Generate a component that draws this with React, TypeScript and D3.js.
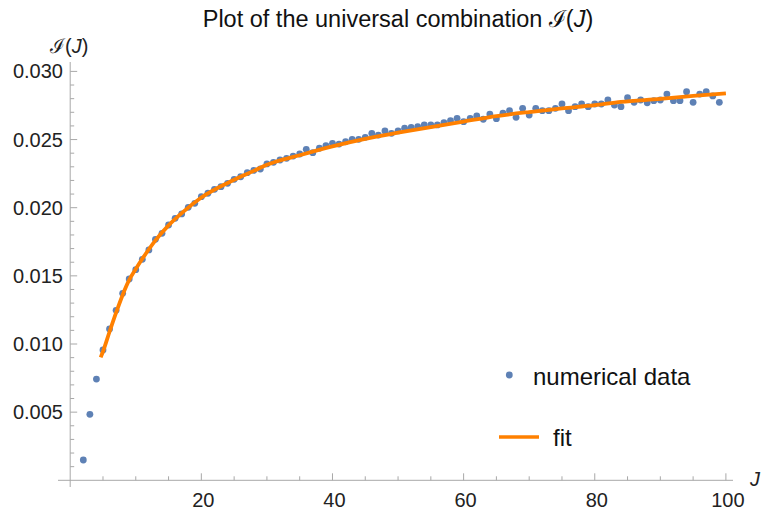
import React from "react";
import * as d3 from "d3";

// numerical data
const jValues = [
  2, 3, 4, 5, 6, 7, 8, 9, 10, 11, 12, 13, 14, 15, 16, 17, 18, 19, 20,
  21, 22, 23, 24, 25, 26, 27, 28, 29, 30, 31, 32, 33, 34, 35, 36, 37, 38, 39, 40,
  41, 42, 43, 44, 45, 46, 47, 48, 49, 50, 51, 52, 53, 54, 55, 56, 57, 58, 59, 60,
  61, 62, 63, 64, 65, 66, 67, 68, 69, 70, 71, 72, 73, 74, 75, 76, 77, 78, 79, 80,
  81, 82, 83, 84, 85, 86, 87, 88, 89, 90, 91, 92, 93, 94, 95, 96, 97, 98, 99,
];
const iValues = [
  0.00149, 0.00484, 0.00743, 0.00956, 0.0111, 0.01247, 0.01372, 0.01477, 0.01545,
  0.01621, 0.0169, 0.01768, 0.01812, 0.01873, 0.01922, 0.01954, 0.02003, 0.02032, 0.02081,
  0.02106, 0.02135, 0.02154, 0.02179, 0.02208, 0.02227, 0.02257, 0.02274, 0.02284, 0.02321,
  0.02333, 0.0235, 0.02362, 0.02379, 0.02394, 0.02428, 0.02404, 0.02436, 0.02455, 0.02472,
  0.02467, 0.02484, 0.02502, 0.02502, 0.02516, 0.02546, 0.02533, 0.02563, 0.02546, 0.02563,
  0.02583, 0.0259, 0.02594, 0.02607, 0.02607, 0.02607, 0.02624, 0.02638, 0.02656, 0.02631,
  0.02656, 0.02673, 0.02649, 0.02687, 0.02653, 0.02693, 0.02712, 0.02663, 0.02729, 0.0268,
  0.02729, 0.02712, 0.02712, 0.02729, 0.02761, 0.02712, 0.02741, 0.02761, 0.02741, 0.02761,
  0.02761, 0.0279, 0.02753, 0.02741, 0.02807, 0.02773, 0.0279, 0.0277, 0.02785, 0.0279,
  0.02834, 0.02785, 0.02785, 0.02851, 0.02773, 0.02834, 0.02851, 0.0282, 0.02773,
];

// fitted curve
const fitJ = [4.65, 5, 6, 7, 8, 9, 10, 11, 12, 13, 15, 17, 20, 25, 28, 30, 35, 40, 45, 50, 55, 60, 65, 70, 75, 80, 84, 90, 95, 100];
const fitI = [
  0.00902, 0.00945, 0.0109, 0.0123, 0.0136, 0.0147, 0.0155, 0.01625, 0.01695, 0.0176,
  0.0187, 0.0196, 0.02075, 0.02205, 0.0227, 0.02315, 0.02385, 0.0245, 0.02505, 0.0255,
  0.02592, 0.02632, 0.02672, 0.02702, 0.02728, 0.02752, 0.02776, 0.02798, 0.0282, 0.02839,
];

const xMajor = [20, 40, 60, 80, 100];
const xTickLabels = ["20", "40", "60", "80", "100"];
const yMajor = [0.005, 0.01, 0.015, 0.02, 0.025, 0.03];
const yTickLabels = ["0.005", "0.010", "0.015", "0.020", "0.025", "0.030"];
const seriesNames = ["numerical data", "fit"];

const W = 761;
const H = 513;
const FONT = "'Liberation Sans', Arial, sans-serif";
const AXIS = "#a8a8a8";
const DOT = "#5e81b5";
const FIT = "#ff8000";

export default function App() {
  const x = d3.scaleLinear().domain([0, 100]).range([70.2, 725.9]);
  const y = d3.scaleLinear().domain([0, 0.03]).range([480.3, 71.4]);

  const xMinor = d3.range(5, 101, 5).filter((d) => !xMajor.includes(d));
  const yMinor = d3.range(1, 31).map((d) => d / 1000).filter((d) => Math.round(d * 1000) % 5 !== 0);

  const line = d3
    .line<number>()
    .x((_, i) => x(fitJ[i]))
    .y((d) => y(d))
    .curve(d3.curveMonotoneX);

  const x0 = x(0);
  const y0 = y(0);

  return (
    <svg width={W} height={H} style={{ position: "absolute", left: 0, top: 0, background: "#fff" }} fontFamily={FONT}>
      <text x={398} y={27} textAnchor="middle" fontSize={23.5} fill="#111">
        Plot of the universal combination ℐ(<tspan fontStyle="italic">J</tspan>)
      </text>

      {/* axes */}
      <line x1={58} x2={733} y1={y0} y2={y0} stroke={AXIS} />
      <line x1={x0} x2={x0} y1={487} y2={62} stroke={AXIS} />
      {xMajor.map((d) => (
        <line key={"xM" + d} x1={x(d)} x2={x(d)} y1={y0} y2={y0 - 7} stroke={AXIS} />
      ))}
      {xMinor.map((d) => (
        <line key={"xm" + d} x1={x(d)} x2={x(d)} y1={y0} y2={y0 - 4} stroke={AXIS} />
      ))}
      {yMajor.map((d) => (
        <line key={"yM" + d} x1={x0} x2={x0 + 7} y1={y(d)} y2={y(d)} stroke={AXIS} />
      ))}
      {yMinor.map((d) => (
        <line key={"ym" + d} x1={x0} x2={x0 + 4} y1={y(d)} y2={y(d)} stroke={AXIS} />
      ))}
      {xMajor.map((d, i) => (
        <text key={"xl" + d} x={x(d) + 2} y={507} textAnchor="middle" fontSize={20} fill="#222">
          {xTickLabels[i]}
        </text>
      ))}
      {yMajor.map((d, i) => (
        <text key={"yl" + d} x={63} y={y(d) + 7} textAnchor="end" fontSize={20} fill="#222">
          {yTickLabels[i]}
        </text>
      ))}
      <text x={50} y={53} fontSize={20} fill="#222">
        ℐ(<tspan fontStyle="italic">J</tspan>)
      </text>
      <text x={750} y={486} fontSize={20} fill="#222" fontStyle="italic">
        J
      </text>

      {/* data */}
      {iValues.map((v, i) => (
        <circle key={"p" + i} cx={x(jValues[i])} cy={y(v)} r={3.4} fill={DOT} />
      ))}
      <path d={line(fitI) ?? ""} fill="none" stroke={FIT} strokeWidth={3.8} />

      {/* legend */}
      <circle cx={509.3} cy={375} r={3.4} fill={DOT} />
      <text x={533} y={385} fontSize={24} fill="#111">
        {seriesNames[0]}
      </text>
      <line x1={499} x2={539} y1={437} y2={437} stroke={FIT} strokeWidth={3.4} />
      <text x={553} y={446} fontSize={24} fill="#111">
        {seriesNames[1]}
      </text>
    </svg>
  );
}
